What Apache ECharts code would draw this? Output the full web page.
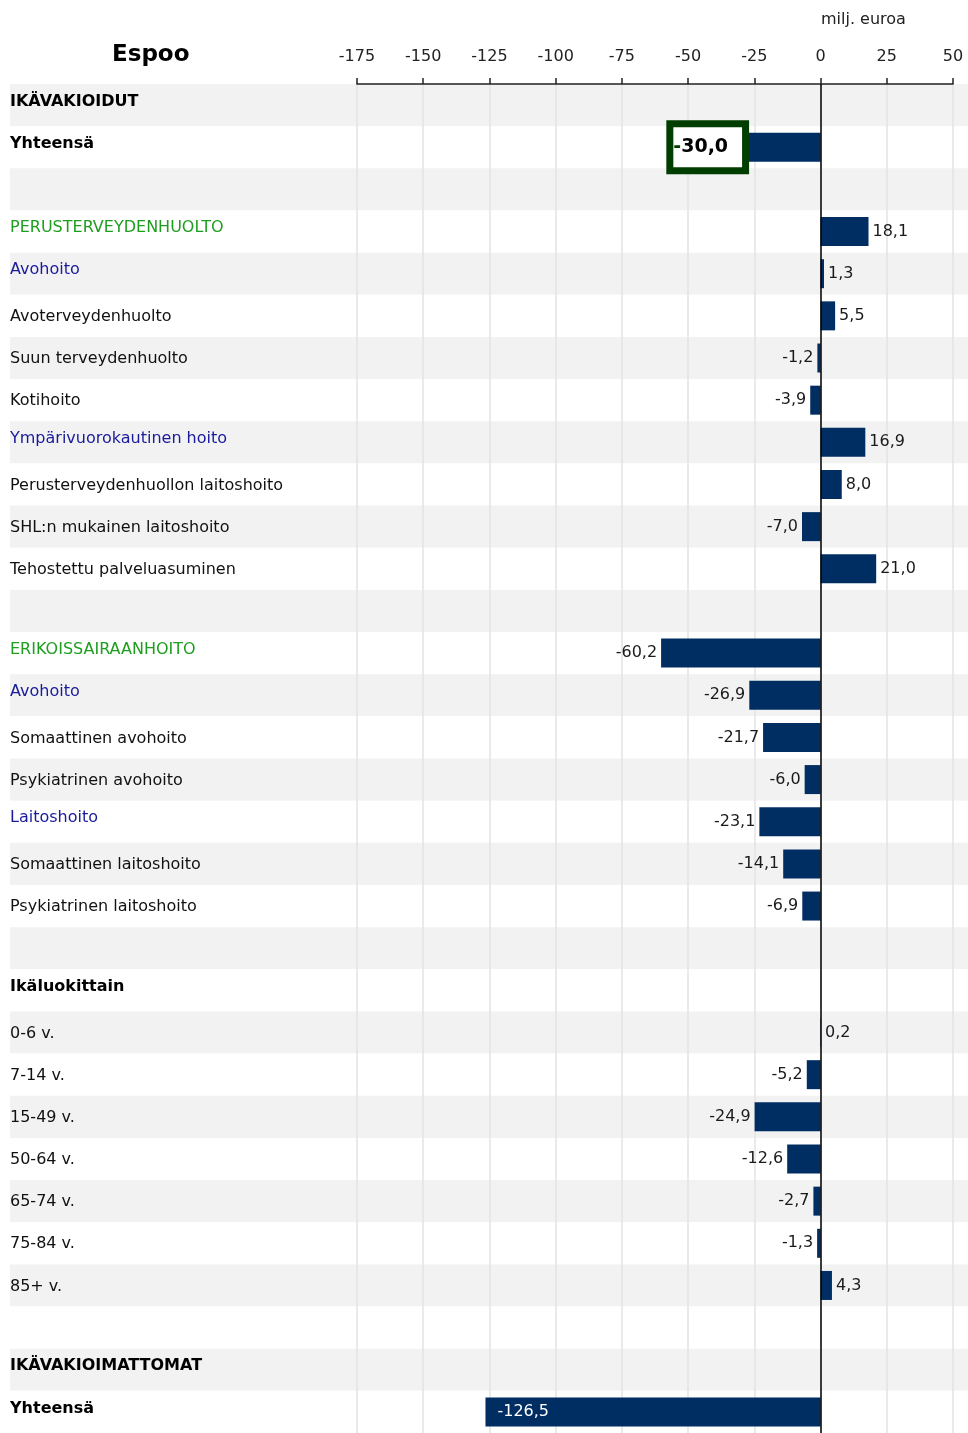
<!DOCTYPE html>
<html>
<head>
<meta charset="utf-8">
<script src="https://cdn.jsdelivr.net/npm/echarts@6/dist/echarts.min.js"></script>
<style>
html,body{margin:0;padding:0;background:#fff;}
#chart{width:968px;height:1433px;}
</style>
</head>
<body>
<div id="chart"></div>
<script>
// ---- DATA ----
const title = 'Espoo';
const unitLabel = 'milj. euroa';
const categories = [
  'IKÄVAKIOIDUT', 'Yhteensä', '',
  'PERUSTERVEYDENHUOLTO', 'Avohoito', 'Avoterveydenhuolto', 'Suun terveydenhuolto', 'Kotihoito',
  'Ympärivuorokautinen hoito', 'Perusterveydenhuollon laitoshoito', 'SHL:n mukainen laitoshoito',
  'Tehostettu palveluasuminen', '',
  'ERIKOISSAIRAANHOITO', 'Avohoito', 'Somaattinen avohoito', 'Psykiatrinen avohoito', 'Laitoshoito',
  'Somaattinen laitoshoito', 'Psykiatrinen laitoshoito', '',
  'Ikäluokittain', '0-6 v.', '7-14 v.', '15-49 v.', '50-64 v.', '65-74 v.', '75-84 v.', '85+ v.', '',
  'IKÄVAKIOIMATTOMAT', 'Yhteensä'
];
// row kind: h = heading, s = sector, g = group, i = item, b = blank
const rowKinds = [
  'h', 'h', 'b',
  's', 'g', 'i', 'i', 'i',
  'g', 'i', 'i',
  'i', 'b',
  's', 'g', 'i', 'i', 'g',
  'i', 'i', 'b',
  'h', 'i', 'i', 'i', 'i', 'i', 'i', 'i', 'b',
  'h', 'h'
];
const values = [
  null, -30.0, null,
  18.1, 1.3, 5.5, -1.2, -3.9,
  16.9, 8.0, -7.0,
  21.0, null,
  -60.2, -26.9, -21.7, -6.0, -23.1,
  -14.1, -6.9, null,
  null, 0.2, -5.2, -24.9, -12.6, -2.7, -1.3, 4.3, null,
  null, -126.5
];
const xTicks = { min: -175, max: 50, interval: 25 };

// ---- CHART ----
const FONT = '"DejaVu Sans", Verdana, sans-serif';
const fmt = v => v.toFixed(1).replace('.', ',');
const highlightIdx = 1;
const insideIdx = values.length - 1;
const BOX = '#003d00';

const seriesData = values.map((v, i) => {
  if (v == null) return null;
  const item = { value: v, label: { position: v < 0 ? 'left' : 'right', distance: 4 } };
  if (i === highlightIdx) {
    item.label = {
      position: 'left', distance: -1,
      formatter: p => {
        const s = fmt(p.value);
        return s[0] === '-' ? '{m|-}{n|' + s.slice(1) + '}' : '{n|' + s + '}';
      },
      rich: {
        m: { fontFamily: FONT, fontWeight: 'bold', fontSize: 19, color: BOX, lineHeight: 22 },
        n: { fontFamily: FONT, fontWeight: 'bold', fontSize: 19, color: '#000', lineHeight: 22 }
      },
      backgroundColor: '#ffffff', borderColor: BOX, borderWidth: 7,
      padding: [9, 14, 9, 0]
    };
  } else if (i === insideIdx) {
    item.label = { position: 'insideLeft', distance: 12, color: '#ffffff' };
  }
  return item;
});

const rich = {
  h: { fontFamily: FONT, fontSize: 16, fontWeight: 'bold', color: '#000', padding: [0, 0, 7, 0] },
  s: { fontFamily: FONT, fontSize: 16, color: '#1e9e1e', padding: [0, 0, 7, 0] },
  g: { fontFamily: FONT, fontSize: 16, color: '#1a1a9c', padding: [0, 0, 7, 0] },
  i: { fontFamily: FONT, fontSize: 16, color: '#111', padding: [2, 0, 0, 0] },
  b: { fontSize: 16 }
};

const chart = echarts.init(document.getElementById('chart'), null, { renderer: 'canvas' });
chart.setOption({
  animation: false,
  backgroundColor: '#ffffff',
  textStyle: { fontFamily: FONT },
  graphic: [
    { type: 'text', left: 112, top: 44, style: { text: title, font: 'bold 23px ' + FONT, fill: '#000' } },
    { type: 'text', left: 821, top: 12, style: { text: unitLabel, font: '16px ' + FONT, fill: '#222' } }
  ],
  grid: [
    { left: 10, right: 0, top: 84, bottom: 0 },
    { left: 357, right: 15, top: 84, bottom: 0 }
  ],
  xAxis: [
    { gridIndex: 0, type: 'value', show: false, min: 0, max: 1 },
    {
      gridIndex: 1, type: 'value', position: 'top',
      min: xTicks.min, max: xTicks.max, interval: xTicks.interval,
      axisLine: { show: true, lineStyle: { color: '#222', width: 1.5 } },
      axisTick: { show: true, length: 6, lineStyle: { color: '#222', width: 1.5 } },
      axisLabel: { fontSize: 16, color: '#222', margin: 19, fontFamily: FONT },
      splitLine: { show: true, lineStyle: { color: '#e3e3e3', width: 1.5 } }
    }
  ],
  yAxis: [
    {
      gridIndex: 0, type: 'category', data: categories, inverse: true,
      axisLine: { show: false }, axisTick: { show: false }, axisLabel: { show: false },
      splitArea: { show: true, areaStyle: { color: ['#f2f2f2', '#ffffff'] } }
    },
    {
      gridIndex: 1, type: 'category', data: categories, inverse: true,
      axisLine: { show: false }, axisTick: { show: false },
      axisLabel: {
        align: 'left', margin: 347, interval: 0,
        formatter: (val, idx) => val ? '{' + rowKinds[idx] + '|' + val + '}' : '',
        rich: rich
      }
    }
  ],
  series: [{
    type: 'bar', xAxisIndex: 1, yAxisIndex: 1,
    data: seriesData, barWidth: 29,
    itemStyle: { color: '#002d62' },
    label: {
      show: true, fontSize: 16, color: '#1a1a1a', fontFamily: FONT,
      formatter: p => fmt(p.value)
    },
    markLine: {
      silent: true, symbol: 'none',
      label: { show: false },
      lineStyle: { color: '#000', width: 1.5, type: 'solid' },
      data: [{ xAxis: 0 }]
    },
    z: 3
  }]
});
</script>
</body>
</html>
